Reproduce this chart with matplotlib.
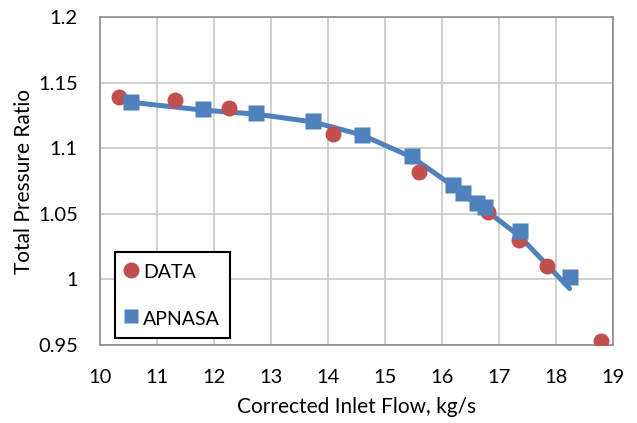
import matplotlib
matplotlib.use("Agg")
import matplotlib.pyplot as plt
from matplotlib.lines import Line2D

plt.rcParams['font.family'] = ['Lato', 'DejaVu Sans']

# Measured rig data
data_flow = [10.33, 11.32, 12.27, 14.08, 15.60, 16.80, 17.35, 17.84, 18.79]
data_pr = [1.139, 1.137, 1.131, 1.111, 1.082, 1.051, 1.030, 1.010, 0.953]

# APNASA predictions
apnasa_flow = [10.54, 11.81, 12.74, 13.74, 14.60, 15.48, 16.20, 16.36, 16.62, 16.76, 17.36, 18.24]
apnasa_pr = [1.135, 1.130, 1.127, 1.121, 1.110, 1.094, 1.072, 1.066, 1.058, 1.055, 1.037, 1.002]

# APNASA trend line
line_flow = [10.54, 11.81, 12.74, 13.74, 14.60, 15.48, 16.20, 16.36, 16.62, 16.76, 17.36, 18.24]
line_pr = [1.135, 1.129, 1.126, 1.120, 1.110, 1.093, 1.071, 1.065, 1.057, 1.053, 1.033, 0.993]

red = '#C0504D'
blue = '#4F81BD'

fig = plt.figure(figsize=(6.37, 4.23), dpi=100)
ax = fig.add_axes([100 / 637, 78 / 423, 513 / 637, 328 / 423])

ax.plot(line_flow, line_pr, color=blue, lw=3.6, solid_capstyle='round', zorder=3)
ax.plot(data_flow, data_pr, 'o', color=red, ms=11.5, mec='none', zorder=4)
ax.plot(apnasa_flow, apnasa_pr, 's', color=blue, ms=11, mec='none', zorder=5)

ax.set_xlim(10, 19)
ax.set_ylim(0.95, 1.2)
ax.set_xticks(range(10, 20))
ax.set_yticks([0.95, 1.0, 1.05, 1.1, 1.15, 1.2])
ax.set_yticklabels(['0.95', '1', '1.05', '1.1', '1.15', '1.2'])
ax.grid(True, color='#c8c8c8', lw=1.2)
ax.set_axisbelow(True)
for s in ax.spines.values():
    s.set_color('#8c8c8c')
    s.set_linewidth(1.2)
ax.tick_params(length=0, labelsize=14.5)
ax.tick_params(axis='x', pad=17)
ax.tick_params(axis='y', pad=16)
ax.set_xlabel('Corrected Inlet Flow, kg/s', fontsize=15, labelpad=8)
ax.set_ylabel('Total Pressure Ratio', fontsize=15, labelpad=3)

handles = [
    Line2D([], [], ls='none', marker='o', color=red, ms=11.5, mec='none'),
    Line2D([], [], ls='none', marker='s', color=blue, ms=10, mec='none'),
]
leg = ax.legend(handles, ['DATA', 'APNASA'], loc='lower left',
                bbox_to_anchor=(0.029, 0.021), fontsize=14, fancybox=False,
                edgecolor='black', framealpha=1, borderpad=0.5,
                labelspacing=1.3, handletextpad=0.25, handlelength=0.7,
                handleheight=1.27, borderaxespad=0)
leg.get_frame().set_linewidth(1.5)
leg.set_zorder(6)

fig.savefig('out.png', dpi=100)
